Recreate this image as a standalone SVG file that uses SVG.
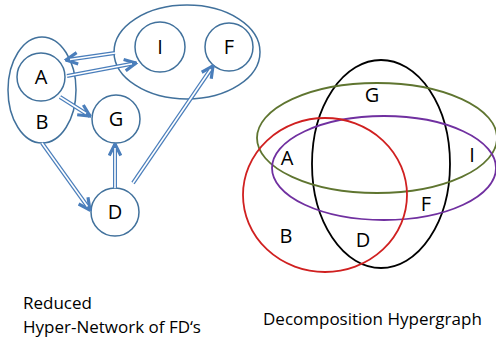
<svg xmlns="http://www.w3.org/2000/svg" width="496" height="338" viewBox="0 0 496 338">
<style>
.n{fill:none;stroke:#41719c;stroke-width:1.5}
.t{font-family:"Open Sans","Liberation Sans",sans-serif;font-size:20px;fill:#000;text-anchor:middle}
.c{fill:none;stroke:#4a7ebb;stroke-width:4}
.w{fill:none;stroke:#fff;stroke-width:1.6}
.v{fill:none;stroke-width:1.8}
.l{font-family:"Open Sans","Liberation Sans",sans-serif;font-size:17px;fill:#000}
</style>
<defs>
<marker id="ah" viewBox="0 0 10 10" refX="9" refY="5" markerWidth="3.6" markerHeight="3.6" orient="auto" markerUnits="strokeWidth">
<path d="M1,1 L9,5 L1,9" fill="none" stroke="#4a7ebb" stroke-width="2.2"/>
</marker>
</defs>
<rect width="496" height="338" fill="#fff"/>
<g id="AB"><ellipse class="n" cx="42" cy="90" rx="34" ry="53"/><text class="t" x="42" y="129">B</text></g>
<g id="A"><circle class="n" cx="41" cy="77" r="24"/><text class="t" x="41" y="84">A</text></g>
<g id="G"><circle class="n" cx="116" cy="119" r="24"/><text class="t" x="116" y="126">G</text></g>
<g id="D"><circle class="n" cx="115" cy="212" r="24"/><text class="t" x="115" y="219">D</text></g>
<g id="IF"><ellipse class="n" cx="187" cy="52" rx="73" ry="47"/></g>
<g id="I"><circle class="n" cx="160" cy="47" r="25"/><text class="t" x="160" y="54">I</text></g>
<g id="F"><circle class="n" cx="229" cy="47" r="24"/><text class="t" x="229" y="54">F</text></g>
<g id="connectors">
<path class="c" d="M115,53 L66,60" marker-end="url(#ah)"/><path class="w" d="M115,53 L70,59.5"/>
<path class="c" d="M67,76 L136,63" marker-end="url(#ah)"/><path class="w" d="M67,76 L132,63.8"/>
<path class="c" d="M60,97 L90,116" marker-end="url(#ah)"/><path class="w" d="M60,97 L86,113.5"/>
<path class="c" d="M42,143 L90,210" marker-end="url(#ah)"/><path class="w" d="M42,143 L87.5,206.5"/>
<path class="c" d="M115,188 L115,144" marker-end="url(#ah)"/><path class="w" d="M115,188 L115,148"/>
<path class="c" d="M133,183 L213,66" marker-end="url(#ah)"/><path class="w" d="M133,183 L210.7,69.3"/>
</g>
<g id="hypergraph">
<ellipse class="v" cx="381" cy="164" rx="69" ry="104" stroke="#000"/>
<ellipse class="v" cx="377" cy="138" rx="120" ry="55" stroke="#5f7530"/>
<ellipse class="v" cx="384" cy="168" rx="112" ry="52" stroke="#7030a0"/>
<ellipse class="v" cx="325" cy="195" rx="82" ry="77" stroke="#d02020"/>
<text class="t" x="372" y="102">G</text>
<text class="t" x="287" y="165">A</text>
<text class="t" x="472" y="162">I</text>
<text class="t" x="426" y="211">F</text>
<text class="t" x="286" y="243">B</text>
<text class="t" x="363" y="247">D</text>
</g>
<text class="l" x="23" y="309">Reduced</text>
<text class="l" x="23" y="333">Hyper-Network of FD‘s</text>
<text class="l" x="263" y="325">Decomposition Hypergraph</text>
</svg>
